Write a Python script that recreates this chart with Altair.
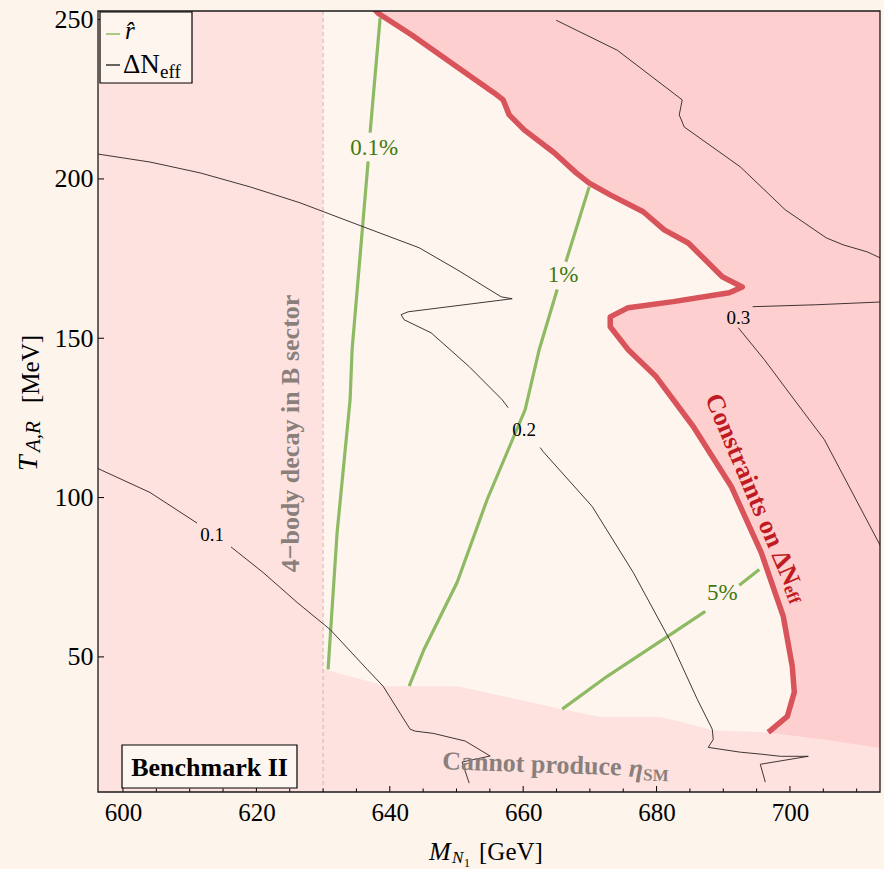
import altair as alt
import pandas as pd

SERIF = "Liberation Serif"

# plot ranges (GeV, MeV)
X_MIN, X_MAX = 596.25, 713.5
Y_MIN, Y_MAX = 7.6, 252.7
W, H = 782, 781

x_major_ticks = [600, 620, 640, 660, 680, 700]
x_minor_ticks = [605, 610, 615, 625, 630, 635, 645, 650, 655, 665, 670,
                 675, 685, 690, 695, 705, 710]
y_major_ticks = [50, 100, 150, 200, 250]

# 4-body decay threshold in the B sector
m_4body = 630.0

# boundary of the Delta N_eff exclusion
neff_bound_x = [637.6, 638.25, 643.35, 650.1, 655.65, 657.0, 657.9, 660.15,
                664.65, 667.95, 669.9, 673.05, 678.0, 681.15, 684.75, 689.85,
                692.85, 690.9, 682.5, 675.75, 673.05, 673.05, 675.75, 679.95,
                685.5, 691.2, 695.7, 699.0, 700.35, 700.65, 699.6, 696.75]
neff_bound_y = [253.5, 252.0, 245.1, 235.1, 227.0, 224.8, 220.1, 215.4,
                208.2, 201.9, 198.7, 195.0, 189.7, 184.0, 179.9, 169.3,
                166.1, 164.3, 161.5, 159.6, 156.7, 153.6, 146.4, 137.9,
                122.3, 103.5, 82.7, 62.7, 47.0, 38.9, 31.3, 26.3]

# lower edge: eta_SM cannot be produced below it
eta_bound_x = [630.0, 639.5, 650.1, 665.9, 671.5, 680.5, 684.0, 688.5,
               696.7, 705.1, 714.2]
eta_bound_y = [46.2, 40.8, 40.8, 33.6, 31.1, 31.1, 29.5, 27.0, 26.3, 24.1, 21.2]

# r-hat contours (two pieces each, split around the label)
rhat_01_x = [[638.55, 637.05], [636.75, 634.35, 634.05, 632.1, 630.75]]
rhat_01_y = [[250.5, 214.5], [205.5, 146.4, 130.7, 89.0, 46.1]]
rhat_1_x = [[669.9, 666.4], [665.1, 662.4, 660.3, 654.6, 650.1, 645.15, 642.9]]
rhat_1_y = [[197.5, 174.0], [165.3, 146.4, 127.6, 99.4, 73.4, 52.4, 40.8]]
rhat_5_x = [[665.85, 672.6, 681.0, 687.3], [692.4, 695.4]]
rhat_5_y = [[33.6, 43.9, 55.5, 64.3], [72.5, 77.4]]

# Delta N_eff contours
dneff_01_x = [[596.25, 604.05, 611.1],
              [616.2, 621.0, 626.1, 631.05, 636.6, 639.0, 643.05, 643.8, 646.5,
               651.3, 655.05, 650.85, 651.9]]
dneff_01_y = [[109.1, 101.6, 92.0],
              [84.5, 76.5, 67.1, 58.6, 46.1, 40.8, 27.3, 26.7, 26.0, 23.6,
               18.9, 17.0, 10.4]]
dneff_02_x = [[596.25, 604.05, 611.55, 619.05, 626.55, 636.0, 644.4, 650.1,
               656.7, 658.35, 642.75, 641.7, 642.15, 646.2, 651.9, 656.85, 657.75],
              [662.55, 663.0, 670.35, 676.5, 682.2, 686.1, 688.35, 688.5, 687.75,
               692.55, 695.55, 698.55, 702.75, 695.55, 696.3]]
dneff_02_y = [[207.8, 205.3, 201.9, 197.5, 192.5, 185.0, 178.4, 171.5, 163.0,
               162.4, 158.3, 157.4, 155.8, 151.7, 141.1, 130.7, 128.2],
              [115.7, 114.4, 97.2, 76.5, 54.5, 36.7, 27.3, 24.1, 21.6, 20.1,
               19.5, 18.8, 18.8, 16.3, 10.7]]
dneff_03_x = [[664.95, 674.1, 683.85, 683.4, 684.15, 692.55, 699.3, 705.45,
               708.0, 711.6, 713.55],
              [713.85, 703.8, 694.4],
              [692.25, 696.15, 700.65, 705.15, 713.85]]
dneff_03_y = [[249.8, 240.4, 224.8, 220.1, 216.3, 203.8, 190.3, 181.5, 179.3,
               177.1, 175.2],
              [161.4, 160.5, 159.9],
              [153.3, 143.3, 130.7, 118.2, 83.7]]

# contour labels
rhat_labels = ["0.1%", "1%", "5%"]
rhat_label_x = [637.65, 666.0, 689.85]
rhat_label_y = [209.7, 169.9, 70.2]
dneff_labels = ["0.1", "0.2", "0.3"]
dneff_label_x = [613.35, 660.15, 692.25]
dneff_label_y = [88.4, 121.3, 156.4]

C_BG = "#fdf4ec"
C_ALLOWED = "#fef5ef"
C_SOFT = "#fde2df"
C_NEFF = "#fecfcf"
C_NEFF_LINE = "#d9535b"
C_GREEN = "#8dba62"
C_GREEN_TXT = "#3f7a0e"
C_GREY_TXT = "#8b7f7c"
C_RED_TXT = "#c01a22"

X_SCALE = alt.Scale(domain=[X_MIN, X_MAX], nice=False, zero=False)
Y_SCALE = alt.Scale(domain=[Y_MIN, Y_MAX], nice=False, zero=False)
X_AXIS = alt.Axis(values=x_major_ticks, labelFont=SERIF, labelFontSize=25,
                  labelColor="black", ticks=False, domain=False, grid=False,
                  labelPadding=8, title=None, labelFlush=False, format="d")
Y_AXIS = alt.Axis(values=y_major_ticks, labelFont=SERIF, labelFontSize=26,
                  labelColor="black", ticks=False, domain=False, grid=False,
                  labelPadding=5, title=None, labelFlush=False, format="d")


def xq(field="x"):
    return alt.X(f"{field}:Q", scale=X_SCALE, axis=X_AXIS)


def yq(field="y"):
    return alt.Y(f"{field}:Q", scale=Y_SCALE, axis=Y_AXIS)


def pieces(xs_list, ys_list, name):
    rows = []
    for k, (xs, ys) in enumerate(zip(xs_list, ys_list)):
        for i, (a, b) in enumerate(zip(xs, ys)):
            rows.append({"x": a, "y": b, "seg": f"{name}-{k}", "i": i})
    return rows


# shaded regions
left_df = pd.DataFrame({"x": [X_MIN], "x2": [m_4body], "y": [Y_MIN], "y2": [Y_MAX]})
left_region = alt.Chart(left_df).mark_rect(color=C_SOFT).encode(
    x=xq(), x2="x2:Q", y=yq(), y2="y2:Q"
)

neff_fill_df = pd.DataFrame({
    "x": neff_bound_x + [neff_bound_x[-1]],
    "y": neff_bound_y + [Y_MIN - 2],
})
neff_fill_df["x2"] = X_MAX + 2
neff_fill = alt.Chart(neff_fill_df).mark_area(orient="horizontal", color=C_NEFF, clip=True).encode(
    y=yq(), x=xq(), x2="x2:Q"
)

eta_df = pd.DataFrame({"x": eta_bound_x, "y": eta_bound_y})
eta_df["y2"] = Y_MIN - 2
eta_band = alt.Chart(eta_df).mark_area(color=C_SOFT, clip=True).encode(
    x=xq(), y=yq(), y2="y2:Q"
)

thr_df = pd.DataFrame({"x": [m_4body], "y": [Y_MIN], "y2": [Y_MAX]})
thr_rule = alt.Chart(thr_df).mark_rule(color="#d6b2ac", strokeWidth=1, strokeDash=[4, 3]).encode(
    x=xq(), y=yq(), y2="y2:Q"
)

# contour lines
rhat_df = pd.DataFrame(pieces(rhat_01_x, rhat_01_y, "r01")
                       + pieces(rhat_1_x, rhat_1_y, "r1")
                       + pieces(rhat_5_x, rhat_5_y, "r5"))
rhat_lines = alt.Chart(rhat_df).mark_line(color=C_GREEN, strokeWidth=3.2, clip=True).encode(
    x=xq(), y=yq(), detail="seg:N", order="i:Q"
)

dneff_df = pd.DataFrame(pieces(dneff_01_x, dneff_01_y, "n01")
                        + pieces(dneff_02_x, dneff_02_y, "n02")
                        + pieces(dneff_03_x, dneff_03_y, "n03"))
dneff_lines = alt.Chart(dneff_df).mark_line(color="#2b2222", strokeWidth=0.9, clip=True).encode(
    x=xq(), y=yq(), detail="seg:N", order="i:Q"
)

neff_line_df = pd.DataFrame({"x": neff_bound_x, "y": neff_bound_y,
                             "i": list(range(len(neff_bound_x)))})
neff_line = alt.Chart(neff_line_df).mark_line(color=C_NEFF_LINE, strokeWidth=5.5, clip=True,
                                              strokeJoin="round").encode(
    x=xq(), y=yq(), order="i:Q"
)

rhat_lab_df = pd.DataFrame({"t": rhat_labels, "x": rhat_label_x, "y": rhat_label_y})
rhat_text = alt.Chart(rhat_lab_df).mark_text(font=SERIF, fontSize=23, color=C_GREEN_TXT).encode(
    x=xq(), y=yq(), text="t:N"
)
dneff_lab_df = pd.DataFrame({"t": dneff_labels, "x": dneff_label_x, "y": dneff_label_y})
dneff_text = alt.Chart(dneff_lab_df).mark_text(font=SERIF, fontSize=19, color="black").encode(
    x=xq(), y=yq(), text="t:N"
)


def note(text, x, y, **kw):
    df = pd.DataFrame({"t": [text], "x": [x], "y": [y]})
    return alt.Chart(df).mark_text(font=SERIF, **kw).encode(x=xq(), y=yq(), text="t:N")


def pix(text, px, py, **kw):
    df = pd.DataFrame({"t": [text]})
    return alt.Chart(df).mark_text(font=SERIF, **kw).encode(
        x=alt.value(px), y=alt.value(py), text="t:N")


notes = [
    note("4\u2212body decay in B sector", 625.2, 120.1, fontSize=26, fontWeight="bold",
         color=C_GREY_TXT, angle=270),
    note("Constraints on \u0394N", 694.35, 102.5, fontSize=26, fontWeight="bold",
         color=C_RED_TXT, angle=67),
    note("eff", 699.67, 72.3, fontSize=17, fontWeight="bold", color=C_RED_TXT,
         angle=67, align="left"),
    note("Cannot produce", 661.3, 16.3, fontSize=26, fontWeight="bold",
         color=C_GREY_TXT, angle=2),
    note("\u03b7", 676.9, 14.9, fontSize=26, fontWeight="bold", fontStyle="italic",
         color=C_GREY_TXT, angle=2),
    note("SM", 679.9, 12.7, fontSize=17, fontWeight="bold", color=C_GREY_TXT, angle=2),
]

# tick marks pointing inward
tick_df_major = pd.DataFrame({"x": x_major_ticks})
tick_df_minor = pd.DataFrame({"x": x_minor_ticks})
xt_major = alt.Chart(tick_df_major).mark_rule(color="black", strokeWidth=1).encode(
    x=xq(), y=alt.value(H), y2=alt.value(H - 6))
xt_minor = alt.Chart(tick_df_minor).mark_rule(color="black", strokeWidth=1).encode(
    x=xq(), y=alt.value(H), y2=alt.value(H - 3.5))
yt_df = pd.DataFrame({"y": y_major_ticks})
yt_major = alt.Chart(yt_df).mark_rule(color="black", strokeWidth=1).encode(
    y=yq(), x=alt.value(0), x2=alt.value(6))

one = pd.DataFrame({"t": ["frame"]})

# frame drawn on top of the filled regions
frame = alt.Chart(one).mark_rect(fillOpacity=0, stroke="#1a1a1a", strokeWidth=1.3).encode(
    x=alt.value(0), x2=alt.value(W), y=alt.value(0), y2=alt.value(H))

# Benchmark box
bench_box = alt.Chart(one).mark_rect(fill="#fdf6f0", stroke="black", strokeWidth=1.2).encode(
    x=alt.value(24), x2=alt.value(199), y=alt.value(734), y2=alt.value(777))
bench_text = pix("Benchmark II", 111.5, 757, fontSize=26, fontWeight="bold", color="black")

# legend
leg_box = alt.Chart(one).mark_rect(fill=C_ALLOWED, stroke="black", strokeWidth=1.2).encode(
    x=alt.value(2), x2=alt.value(94), y=alt.value(1), y2=alt.value(72))
leg_green = alt.Chart(one).mark_rule(color=C_GREEN, strokeWidth=1.5).encode(
    x=alt.value(8), x2=alt.value(22), y=alt.value(23))
leg_black = alt.Chart(one).mark_rule(color="black", strokeWidth=1.2).encode(
    x=alt.value(8), x2=alt.value(22), y=alt.value(54))
leg_t1 = pix("r\u0302", 27, 20, fontSize=25, fontStyle="italic", align="left", baseline="middle",
             color="black")
leg_t2 = pix("\u0394N", 25, 54, fontSize=27, align="left", baseline="middle", color="black")
leg_t3 = pix("eff", 62, 61, fontSize=19, align="left", baseline="middle", color="black")

# axis titles
x_title = [
    pix("M", 331, 841, fontSize=26, fontStyle="italic", align="left", baseline="middle", color="black"),
    pix("N", 354, 847, fontSize=17, fontStyle="italic", align="left", baseline="middle", color="black"),
    pix("1", 366, 852, fontSize=12, align="left", baseline="middle", color="black"),
    pix("[GeV]", 381, 841, fontSize=25, align="left", baseline="middle", color="black"),
]
y_title = [
    pix("T", -69, 460, fontSize=28, fontStyle="italic", align="left", baseline="middle",
        angle=270, color="black"),
    pix("A,R", -64, 441, fontSize=21, fontStyle="italic", align="left", baseline="middle",
        angle=270, color="black"),
    pix("[MeV]", -67, 392, fontSize=25, align="left", baseline="middle", angle=270,
        color="black"),
]

chart = alt.layer(
    left_region, neff_fill, eta_band, thr_rule, rhat_lines, dneff_lines, neff_line,
    rhat_text, dneff_text, *notes, xt_major, xt_minor, yt_major, frame,
    bench_box, bench_text, leg_box, leg_green, leg_black, leg_t1, leg_t2, leg_t3,
    *x_title, *y_title,
).properties(
    width=W, height=H,
    autosize=alt.AutoSizeParams(type="none"),
    padding={"left": 98, "top": 11, "right": 4, "bottom": 77},
    background=C_BG,
).configure_view(
    fill=C_ALLOWED, stroke=None,
)

chart.save("out.html", embed_options={"renderer": "svg", "actions": False})
